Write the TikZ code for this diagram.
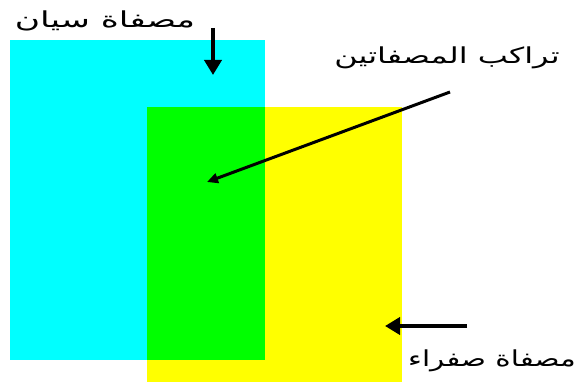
\documentclass[tikz,border=0pt]{standalone}
\usepackage{fontspec}
\newfontfamily\arabicfont[Script=Arabic]{DejaVu Sans}
\TeXXeTstate=1
\usetikzlibrary{arrows.meta,positioning}
\definecolor{filtercyan}{RGB}{0,255,255}
\definecolor{filteryellow}{RGB}{255,255,0}
\definecolor{filtergreen}{RGB}{0,255,0}

\begin{document}
\begin{tikzpicture}[
    x=1pt, y=-1pt,
    % --- STYLES ---
    filter/.style={
        rectangle, draw=none,
        minimum width=255pt,
        inner sep=0pt
    },
    arlabel/.style={
        font=\arabicfont\fontsize{22}{26}\selectfont,
        xscale=1.45, transform shape,
        inner sep=0pt, anchor=center
    },
    pointer/.style={-{Triangle[length=15pt, width=17pt]}, line width=4pt},
    thinpointer/.style={-{Triangle[length=11pt, width=10pt]}, line width=3pt}
]

\useasboundingbox (0,0) rectangle (581,387);

% ===== 1. FILTERS =====
\node[filter, fill=filtercyan, minimum height=320pt] (cyanf) at (137.5,200) {};
\node[filter, fill=filteryellow, minimum height=275pt] (yellowf) at (274.5,244.5) {};

% Overlap of the two filters
\fill[filtergreen] (yellowf.north west) rectangle (cyanf.south east);

% ===== 2. LABELS =====
\node[arlabel, xscale=1.08] (cyanlbl) at (105,21) {\beginR مصفاة سيان\endR};
\node[arlabel] (overlbl) at (447,58) {\beginR تراكب المصفاتين\endR};
\node[arlabel, xscale=0.92] (yellowlbl) at (492,361) {\beginR مصفاة صفراء\endR};

% ===== 3. POINTERS =====
\coordinate (cyantail) at (213,28);
\coordinate (cyantip) at (213,75);
\coordinate (overtail) at (450,92);
\coordinate (overtip) at (207,182);
\coordinate (yellowtail) at (467,326);
\coordinate (yellowtip) at (385,326);

\draw[pointer] (cyantail) -- (cyantip);
\draw[thinpointer] (overtail) -- (overtip);
\draw[pointer] (yellowtail) -- (yellowtip);

\end{tikzpicture}
\end{document}
